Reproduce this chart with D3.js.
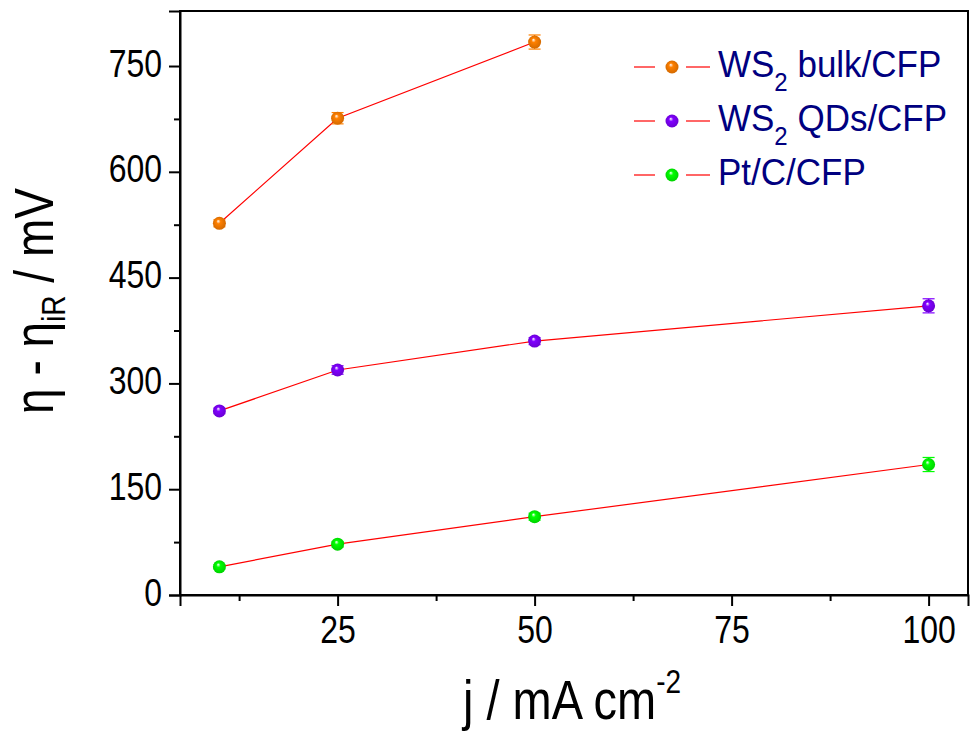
<!DOCTYPE html>
<html>
<head>
<meta charset="utf-8">
<script src="https://cdn.jsdelivr.net/npm/d3@7"></script>
<style>
  body { margin: 0; background: #fff; }
  text { font-family: Arial, "Liberation Sans", sans-serif; }
</style>
</head>
<body>
<div id="chart"></div>
<script>
// x values (current density, mA cm-2)
const bulkX = [10, 25, 50];
const bulkY = [527, 676, 784];
const bulkErr = [5, 8, 10];

const qdX = [10, 25, 50, 100];
const qdY = [261, 319, 360, 410];
const qdErr = [4, 6, 5, 10];

const ptX = [10, 25, 50, 100];
const ptY = [40, 72, 111, 185];
const ptErr = [3, 4, 5, 10];

const seriesNames = ['WS2 bulk/CFP', 'WS2 QDs/CFP', 'Pt/C/CFP'];
const seriesColors = ['#ff8000', '#8000ff', '#00ff00'];
const xTicks = [25, 50, 75, 100];
const xMinor = [12.5, 37.5, 62.5, 87.5];
const yTicks = [0, 150, 300, 450, 600, 750];
const yMinor = [75, 225, 375, 525, 675];

const width = 970, height = 732;
const plotLeft = 180, plotRight = 968, plotTop = 11, plotBottom = 595;
const stretch = 1.2; // text in the original is slightly tall

const svg = d3.select('#chart').append('svg')
    .attr('width', width)
    .attr('height', height);

const defs = svg.append('defs');
seriesColors.forEach((c, i) => {
    const g = defs.append('radialGradient')
        .attr('id', 'ball' + i)
        .attr('cx', '50%').attr('cy', '50%').attr('r', '55%')
        .attr('fx', '40%').attr('fy', '32%');
    g.append('stop').attr('offset', '0%').attr('stop-color', '#ffffff');
    g.append('stop').attr('offset', '30%').attr('stop-color', c);
    g.append('stop').attr('offset', '100%').attr('stop-color', d3.color(c).darker(0.6));
});

const x = d3.scaleLinear().domain([5, 105]).range([plotLeft, plotRight]);
const y = d3.scaleLinear().domain([0, 828]).range([plotBottom, plotTop]);

// frame
svg.append('rect')
    .attr('x', plotLeft).attr('y', plotTop)
    .attr('width', plotRight - plotLeft).attr('height', plotBottom - plotTop)
    .attr('fill', 'none').attr('stroke', '#000').attr('stroke-width', 2);

// axes
const xAxis = svg.append('g').attr('transform', `translate(0,${plotBottom})`)
    .call(d3.axisBottom(x).tickValues(xTicks).tickSize(11).tickFormat(d3.format('d')));
svg.append('g').attr('transform', `translate(0,${plotBottom})`)
    .call(d3.axisBottom(x).tickValues(xMinor).tickSize(6).tickFormat(''))
    .call(g => g.select('.domain').remove());
const yAxis = svg.append('g').attr('transform', `translate(${plotLeft},0)`)
    .call(d3.axisLeft(y).tickValues(yTicks).tickSize(11).tickFormat(d3.format('d')));
svg.append('g').attr('transform', `translate(${plotLeft},0)`)
    .call(d3.axisLeft(y).tickValues(yMinor).tickSize(6).tickFormat(''))
    .call(g => g.select('.domain').remove());

svg.selectAll('.tick line').attr('stroke', '#000').attr('stroke-width', 2);
svg.selectAll('.domain').attr('stroke', '#000').attr('stroke-width', 2);
xAxis.selectAll('text')
    .attr('font-size', 32).attr('fill', '#000')
    .attr('x', 0).attr('y', 0).attr('dy', 0)
    .attr('transform', `translate(0,48) scale(1,${stretch})`);
yAxis.selectAll('text')
    .attr('font-size', 32).attr('fill', '#000')
    .attr('x', 0).attr('y', 0).attr('dy', 0)
    .attr('transform', `translate(-18,10) scale(1,${stretch})`);

// series
const series = [
    { xs: bulkX, ys: bulkY, es: bulkErr },
    { xs: qdX, ys: qdY, es: qdErr },
    { xs: ptX, ys: ptY, es: ptErr }
];

const line = d3.line().x(d => x(d[0])).y(d => y(d[1]));

series.forEach((s, i) => {
    const pts = s.xs.map((v, k) => [v, s.ys[k], s.es[k]]);
    svg.append('path')
        .datum(pts)
        .attr('d', line)
        .attr('fill', 'none')
        .attr('stroke', '#ff0000')
        .attr('stroke-width', 1.2);

    const eg = svg.append('g').attr('stroke', seriesColors[i]).attr('stroke-width', 1.2);
    pts.forEach(p => {
        eg.append('line').attr('x1', x(p[0])).attr('x2', x(p[0]))
            .attr('y1', y(p[1] - p[2])).attr('y2', y(p[1] + p[2]));
        [p[1] - p[2], p[1] + p[2]].forEach(v => {
            eg.append('line').attr('x1', x(p[0]) - 6).attr('x2', x(p[0]) + 6)
                .attr('y1', y(v)).attr('y2', y(v));
        });
    });

    svg.append('g').selectAll('circle')
        .data(pts)
        .enter().append('circle')
        .attr('cx', d => x(d[0]))
        .attr('cy', d => y(d[1]))
        .attr('r', 6.5)
        .attr('fill', `url(#ball${i})`);
});

// legend
const legend = svg.append('g');
seriesNames.forEach((name, i) => {
    const ly = 67 + i * 54;
    legend.append('line').attr('x1', 634).attr('x2', 655).attr('y1', ly).attr('y2', ly)
        .attr('stroke', '#ff0000').attr('stroke-width', 1.2);
    legend.append('line').attr('x1', 686).attr('x2', 710).attr('y1', ly).attr('y2', ly)
        .attr('stroke', '#ff0000').attr('stroke-width', 1.2);
    legend.append('circle').attr('cx', 672).attr('cy', ly).attr('r', 6.5)
        .attr('fill', `url(#ball${i})`);
    const t = legend.append('text')
        .attr('transform', `translate(718,${ly + 10}) scale(1,1.08)`)
        .attr('font-size', 35).attr('fill', '#000080');
    if (name.startsWith('WS2')) {
        t.append('tspan').text('WS');
        t.append('tspan').attr('font-size', 24).attr('dy', 13).text('2');
        t.append('tspan').attr('dy', -13).text(name.slice(3));
    } else {
        t.text(name);
    }
});

// axis titles
svg.append('text')
    .attr('transform', `translate(572,719) scale(1,${stretch})`)
    .attr('text-anchor', 'middle')
    .attr('font-size', 47)
    .attr('fill', '#000')
    .call(t => {
        t.append('tspan').text('j / mA cm');
        t.append('tspan').attr('font-size', 28).attr('dy', -22).text('-2');
    });

svg.append('text')
    .attr('transform', `translate(53,301) rotate(-90) scale(1,${stretch})`)
    .attr('text-anchor', 'middle')
    .attr('font-size', 46)
    .attr('fill', '#000')
    .call(t => {
        t.append('tspan').text('\u03b7 - \u03b7');
        t.append('tspan').attr('font-size', 28).attr('dy', 10).text('iR');
        t.append('tspan').attr('dy', -10).text(' / mV');
    });
</script>
</body>
</html>
